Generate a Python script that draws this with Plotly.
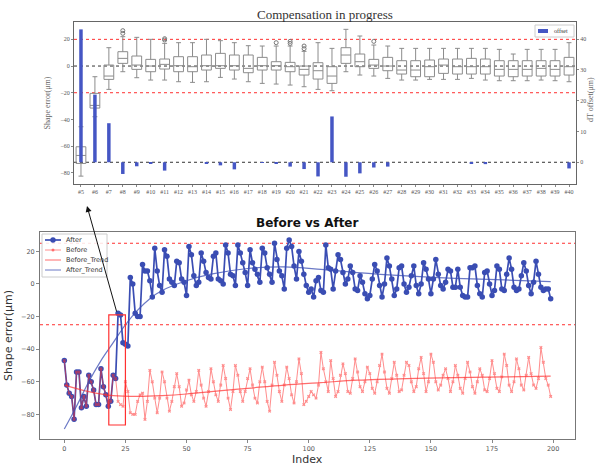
import plotly.graph_objects as go

W, H = 596, 467

# ---------------- top panel data ----------------
categories = ["#5", "#6", "#7", "#8", "#9", "#10", "#11", "#12", "#13", "#14", "#15", "#16",
              "#17", "#18", "#19", "#20", "#21", "#22", "#23", "#24", "#25", "#26", "#27", "#28",
              "#29", "#30", "#31", "#32", "#33", "#34", "#35", "#36", "#37", "#38", "#39", "#40"]
box_q1 = [-73, -31.5, -10, 2, -2.5, -4.25, -2.25, -4.25, -4.25, -3, -1.75, -3,
          -5, -3, -3, -4.25, -6.75, -9.75, -13, 2, -0.5, -1.75, -3.5, -6,
          -8, -8, -5.5, -6, -6, -6, -7.5, -8, -7.5, -7.5, -7.5, -6.75]
box_med = [-67, -29.5, -7.5, 5.75, 0.75, 0, 1.25, 0.25, -0.5, 0.25, 0.25, 0.25,
           -1.75, 0.25, 0.25, -0.5, -2.5, -3.5, -7.5, 8.25, 3.25, 0.75, 0, -3,
           -3, -0.5, 0.75, -0.5, -0.5, -0.5, -2.5, -2.5, -2.5, -1.75, -2.5, -0.5]
box_q3 = [-60.5, -20.5, 0.75, 10.75, 7.5, 5, 5.25, 7, 7, 8.25, 9.5, 8.25,
          8.25, 6.5, 3.25, 2.75, 0, 2.5, -0.5, 13.75, 9, 5, 6.5, 4,
          4, 4.5, 5.25, 5.25, 5.75, 5.25, 4, 4, 4, 4, 4, 6.5]
box_lo = [-82.5, -38, -17.5, -4.25, -8.75, -10.5, -10.5, -11.75, -12.25, -11.75, -8.5, -9.75,
          -11.75, -13, -13.5, -14.25, -15.5, -17.5, -18.5, -4.25, -6.75, -7.5, -9.25, -10.5,
          -10.5, -10, -10, -10, -9.25, -10.5, -11, -11, -11, -10.5, -11, -11.75]
box_hi = [-45.5, -8, 13.75, 22, 21.5, 20, 17, 17.5, 17.5, 20, 19, 17.5,
          15.25, 15, 15, 15, 11, 17.5, 13.25, 27.5, 22.5, 15.75, 15, 13.25,
          13.25, 13.25, 13.25, 13.25, 13.25, 13.25, 12.5, 9, 12.5, 12.5, 12.5, 17.5]
flier_cat = ["#8", "#8", "#11", "#11", "#19", "#20", "#20", "#21", "#21", "#26"]
flier_val = [24.5, 26.5, 19.5, 20.5, 17.5, 17, 18.5, 13, 15, 18.5]
offset = [43.2, 22.0, 12.7, -3.8, -1.3, -0.3, -2.7, 0.0, 0.0, -0.3, -1.0, -2.3,
          0.0, -0.2, -0.3, -1.4, -2.2, -4.6, 14.9, -4.7, -3.6, -1.7, -1.4, 0.0,
          0.0, 0.0, 0.0, 0.0, -0.3, -0.6, 0.0, 0.0, 0.0, 0.0, 0.0, -2.0]

# ---------------- bottom panel data ----------------
after = [-47, -62, -67, -69, -83, -54, -54, -76, -69, -75,
         -56, -60, -65, -74, -74, -52, -63, -68, -75, -72,
         -56, -58, -18, -19, -36, -37, -38, 4, 0, -18,
         -20, -20, 12, 8, 8, 2, -8, 22, 8, -1,
         -5, 21, 17, 3, 1, -1, 14, 13, 3, 1,
         -7, 23, 18, 5, -1, 1, 19, 14, 7, 4,
         3, 17, 19, 3, 2, 0, 24, 19, 6, 5,
         -1, 24, 19, 13, 7, -1, 21, 13, 9, 6,
         1, 22, 19, 10, 6, 1, 25, 15, 8, 5,
         -3, 22, 27, 23, 11, 3, 20, 14, 6, -1,
         -5, -3, -8, 2, 4, -4, -5, 24, 10, 9,
         -3, 8, 18, 15, 7, 0, 3, 11, 7, -3,
         -4, 5, 1, -6, -9, -7, 3, 12, 8, -1,
         -8, 0, 16, 11, 3, -7, -3, 10, 11, 0,
         -5, -2, 5, 11, -1, -6, 0, 13, 9, 3,
         -6, 3, 15, 6, -1, -3, 1, 9, 8, -2,
         -2, 9, -2, -7, -8, -8, 10, 10, 11, -1,
         -6, -8, 7, 8, 0, -7, -4, 11, 9, -3,
         -4, 6, 16, 9, -2, -4, -3, 5, 13, 8,
         -1, -6, 1, 14, 6, -2, -4, -3, -3, -9]
before = [-47, -62, -67, -69, -83, -54, -54, -76, -69, -75,
          -56, -60, -65, -74, -74, -52, -63, -68, -75, -72,
          -56, -58, -72, -74, -75, -60, -66, -79, -80, -80,
          -72, -68, -67, -83, -72, -53, -60, -70, -79, -70,
          -54, -60, -70, -78, -72, -63, -55, -63, -75, -73,
          -65, -59, -68, -72, -66, -53, -62, -70, -75, -66,
          -52, -60, -68, -72, -62, -50, -58, -70, -77, -66,
          -50, -56, -66, -72, -66, -58, -52, -62, -70, -73,
          -60, -51, -60, -72, -78, -62, -48, -56, -66, -72,
          -62, -51, -58, -68, -73, -60, -46, -55, -74, -72,
          -69, -66, -68, -70, -62, -42, -52, -60, -66, -47,
          -58, -69, -66, -56, -49, -55, -66, -67, -58, -46,
          -54, -63, -66, -60, -51, -55, -64, -67, -60, -50,
          -43, -54, -64, -67, -58, -48, -56, -66, -65, -56,
          -48, -50, -60, -66, -63, -52, -45, -55, -66, -60,
          -43, -48, -60, -65, -62, -56, -52, -58, -66, -60,
          -50, -56, -64, -67, -58, -48, -54, -63, -67, -60,
          -52, -56, -65, -66, -58, -47, -55, -64, -66, -57,
          -43, -50, -62, -66, -60, -46, -52, -62, -65, -56,
          -45, -55, -62, -64, -58, -39, -48, -58, -62, -69]
index = list(range(len(after)))
after_trend_x = [0, 5, 10, 15, 20, 25, 30, 35, 40, 50, 60, 75, 90, 105, 120, 140, 160, 180, 199]
after_trend_y = [-89, -75, -60, -47, -36, -25, -16, -9, -4, 2, 6, 9.5, 10.5, 9, 7, 5, 3.5, 2.5, 1.5]
before_trend_x = [0, 10, 20, 30, 40, 50, 60, 75, 90, 105, 120, 140, 160, 180, 199]
before_trend_y = [-62, -66, -68.5, -69, -68.5, -67.5, -66, -64, -62, -60.5, -59, -58, -57.5, -57, -56.5]
legend_names = ["After", "Before", "Before_Trend", "After_Trend"]

pos = list(range(len(categories)))
cat_pos = {c: i for i, c in enumerate(categories)}

SERIF = "Liberation Serif, DejaVu Serif, serif"
SANS = "DejaVu Sans, sans-serif"
BLUE = "#3a4db3"
BARBLUE = "#4556c4"
RED = "#ff3030"


def PX(p):
    return p / W


def PY(p):
    return 1 - p / H


fig = go.Figure()

fig.add_trace(go.Box(
    x=pos, q1=box_q1, median=box_med, q3=box_q3, lowerfence=box_lo, upperfence=box_hi,
    xaxis="x", yaxis="y", width=0.7, whiskerwidth=0.5, boxpoints=False,
    line=dict(color="#8c8c8c", width=1), fillcolor="rgba(255,255,255,0)",
    showlegend=False, hoverinfo="skip"))
fig.add_trace(go.Scatter(
    x=[cat_pos[c] for c in flier_cat], y=flier_val, xaxis="x", yaxis="y", mode="markers",
    marker=dict(symbol="circle-open", size=4, color="#777", line=dict(width=1)),
    showlegend=False))
fig.add_trace(go.Bar(
    x=pos, y=offset, xaxis="x", yaxis="y2", width=0.25, marker_color=BARBLUE,
    marker_line_width=0, name="offset", showlegend=False))

fig.add_trace(go.Scatter(
    x=index, y=after, xaxis="x2", yaxis="y3", mode="lines+markers", name="After",
    line=dict(color=BLUE, width=1.7), marker=dict(size=5.5, color=BLUE), showlegend=False))
fig.add_trace(go.Scatter(
    x=index, y=before, xaxis="x2", yaxis="y3", mode="lines+markers", name="Before",
    line=dict(color=RED, width=1), marker=dict(size=3, color=RED, symbol="x"), opacity=0.55,
    showlegend=False))
fig.add_trace(go.Scatter(
    x=before_trend_x, y=before_trend_y, xaxis="x2", yaxis="y3", mode="lines", name="Before_Trend",
    line=dict(color=RED, width=1.2, shape="spline"), opacity=0.7, showlegend=False))
fig.add_trace(go.Scatter(
    x=after_trend_x, y=after_trend_y, xaxis="x2", yaxis="y3", mode="lines", name="After_Trend",
    line=dict(color=BLUE, width=1.2, shape="spline"), opacity=0.75, showlegend=False))

top_font = dict(family=SERIF, size=6, color="#555")
bot_font = dict(family=SANS, size=6.5, color="#555")

fig.update_layout(
    width=W, height=H, margin=dict(l=0, r=0, t=0, b=0),
    paper_bgcolor="white", plot_bgcolor="white", showlegend=False,
    xaxis=dict(domain=[74 / W, 576 / W], anchor="y", range=[-0.5, 35.5],
               tickvals=pos, ticktext=categories, tickangle=0, tickfont=top_font,
               showline=True, mirror=True, linecolor="#666", linewidth=1,
               ticks="outside", ticklen=2, tickcolor="#888", showgrid=False, zeroline=False),
    yaxis=dict(domain=[1 - 184 / H, 1 - 22 / H], anchor="x", range=[-88.4, 33],
               tickvals=[-80, -60, -40, -20, 0, 20], tickfont=top_font,
               title=dict(text="Shape error(μm)", font=dict(family=SERIF, size=8, color="#666"), standoff=8),
               showline=True, mirror=True, linecolor="#666", linewidth=1,
               ticks="outside", ticklen=2, tickcolor="#888", showgrid=False, zeroline=False),
    yaxis2=dict(overlaying="y", side="right", anchor="x", range=[-7.06, 45.6],
                tickvals=[0, 10, 20, 30, 40], tickfont=top_font,
                ticks="outside", ticklen=2, tickcolor="#888", showgrid=False, zeroline=False),
    xaxis2=dict(domain=[40 / W, 575 / W], anchor="y3", range=[-9.95, 208.95],
                tickvals=[0, 25, 50, 75, 100, 125, 150, 175, 200], tickfont=bot_font,
                showline=True, mirror=True, linecolor="#777", linewidth=1,
                ticks="outside", ticklen=3, tickcolor="#888", showgrid=False, zeroline=False),
    yaxis3=dict(domain=[1 - 439 / H, 1 - 232 / H], anchor="x2", range=[-95.1, 31.9],
                tickvals=[-80, -60, -40, -20, 0, 20], tickfont=bot_font,
                title=dict(text="Shape error(μm)", font=dict(family=SANS, size=11, color="#333"), standoff=6),
                showline=True, mirror=True, linecolor="#777", linewidth=1,
                ticks="outside", ticklen=3, tickcolor="#888", showgrid=False, zeroline=False),
)

shapes = []
for v in (20, -20):
    shapes.append(dict(type="line", xref="x domain", yref="y", x0=0, x1=1, y0=v, y1=v,
                       line=dict(color=RED, width=1, dash="dot"), layer="below"))
shapes.append(dict(type="line", xref="x domain", yref="y", x0=0, x1=1, y0=0, y1=0,
                   line=dict(color="#333", width=1, dash="dot"), layer="below"))
shapes.append(dict(type="line", xref="x domain", yref="y2", x0=0, x1=1, y0=0, y1=0,
                   line=dict(color="#333", width=1, dash="dot"), layer="below"))
for v in (25, -25):
    shapes.append(dict(type="line", xref="x2 domain", yref="y3", x0=0, x1=1, y0=v, y1=v,
                       line=dict(color=RED, width=1, dash="dot"), layer="below"))
shapes.append(dict(type="rect", xref="x2", yref="y3", x0=18.2, x1=25.0, y0=-86.5, y1=-19,
                   line=dict(color=RED, width=1.2)))

# top legend ("offset")
shapes.append(dict(type="rect", xref="paper", yref="paper", x0=PX(535), x1=PX(574), y0=PY(37), y1=PY(25),
                   line=dict(color="#ccc", width=1), fillcolor="rgba(255,255,255,0.9)"))
shapes.append(dict(type="rect", xref="paper", yref="paper", x0=PX(538), x1=PX(548), y0=PY(33), y1=PY(29),
                   line=dict(width=0), fillcolor=BARBLUE))

# bottom legend
shapes.append(dict(type="rect", xref="paper", yref="paper", x0=PX(42), x1=PX(107), y0=PY(277), y1=PY(234),
                   line=dict(color="#ccc", width=1), fillcolor="rgba(255,255,255,0.85)"))
leg_y = [240, 250, 260, 270]
leg_col = [BLUE, RED, RED, BLUE]
leg_w = [1.7, 1, 1, 1]
leg_op = [1, 0.55, 0.7, 0.75]
for yy, cc, ww, oo in zip(leg_y, leg_col, leg_w, leg_op):
    shapes.append(dict(type="line", xref="paper", yref="paper", x0=PX(45), x1=PX(61), y0=PY(yy), y1=PY(yy),
                       line=dict(color=cc, width=ww), opacity=oo))
shapes.append(dict(type="circle", xref="paper", yref="paper", xsizemode="pixel", ysizemode="pixel",
                   xanchor=PX(53), yanchor=PY(240), x0=-2.7, x1=2.7, y0=-2.7, y1=2.7,
                   line=dict(width=0), fillcolor=BLUE))
shapes.append(dict(type="circle", xref="paper", yref="paper", xsizemode="pixel", ysizemode="pixel",
                   xanchor=PX(53), yanchor=PY(250), x0=-1.5, x1=1.5, y0=-1.5, y1=1.5,
                   line=dict(width=0), fillcolor=RED, opacity=0.6))
fig.update_layout(shapes=shapes)

annotations = [
    dict(text="Compensation in progress", x=PX(325), y=PY(14), xref="paper", yref="paper",
         showarrow=False, xanchor="center", yanchor="middle",
         font=dict(family=SERIF, size=13, color="#333")),
    dict(text="<b>Before vs After</b>", x=PX(307), y=PY(223), xref="paper", yref="paper",
         showarrow=False, xanchor="center", yanchor="middle",
         font=dict(family=SANS, size=12, color="#111")),
    dict(text="Index", x=PX(307), y=PY(459), xref="paper", yref="paper",
         showarrow=False, xanchor="center", yanchor="middle",
         font=dict(family=SANS, size=11, color="#333")),
    dict(text="dT offset(μm)", x=PX(590), y=PY(100), xref="paper", yref="paper",
         showarrow=False, xanchor="center", yanchor="middle", textangle=-90,
         font=dict(family=SERIF, size=8, color="#666")),
    dict(text="offset", x=PX(552), y=PY(31), xref="paper", yref="paper",
         showarrow=False, xanchor="left", yanchor="middle",
         font=dict(family=SERIF, size=6, color="#333")),
    dict(text="", x=PX(87), y=PY(206), xref="paper", yref="paper",
         showarrow=True, ax=30, ay=107, arrowhead=2, arrowsize=1.2, arrowwidth=1,
         arrowcolor="#111"),
]
for yy, name in zip(leg_y, legend_names):
    annotations.append(dict(text=name, x=PX(64), y=PY(yy), xref="paper", yref="paper",
                            showarrow=False, xanchor="left", yanchor="middle",
                            font=dict(family=SANS, size=6.5, color="#333")))
fig.update_layout(annotations=annotations)

fig.write_html("out.html", config={"displayModeBar": False},
               post_script="document.body.style.margin='0';document.body.style.padding='0';")
